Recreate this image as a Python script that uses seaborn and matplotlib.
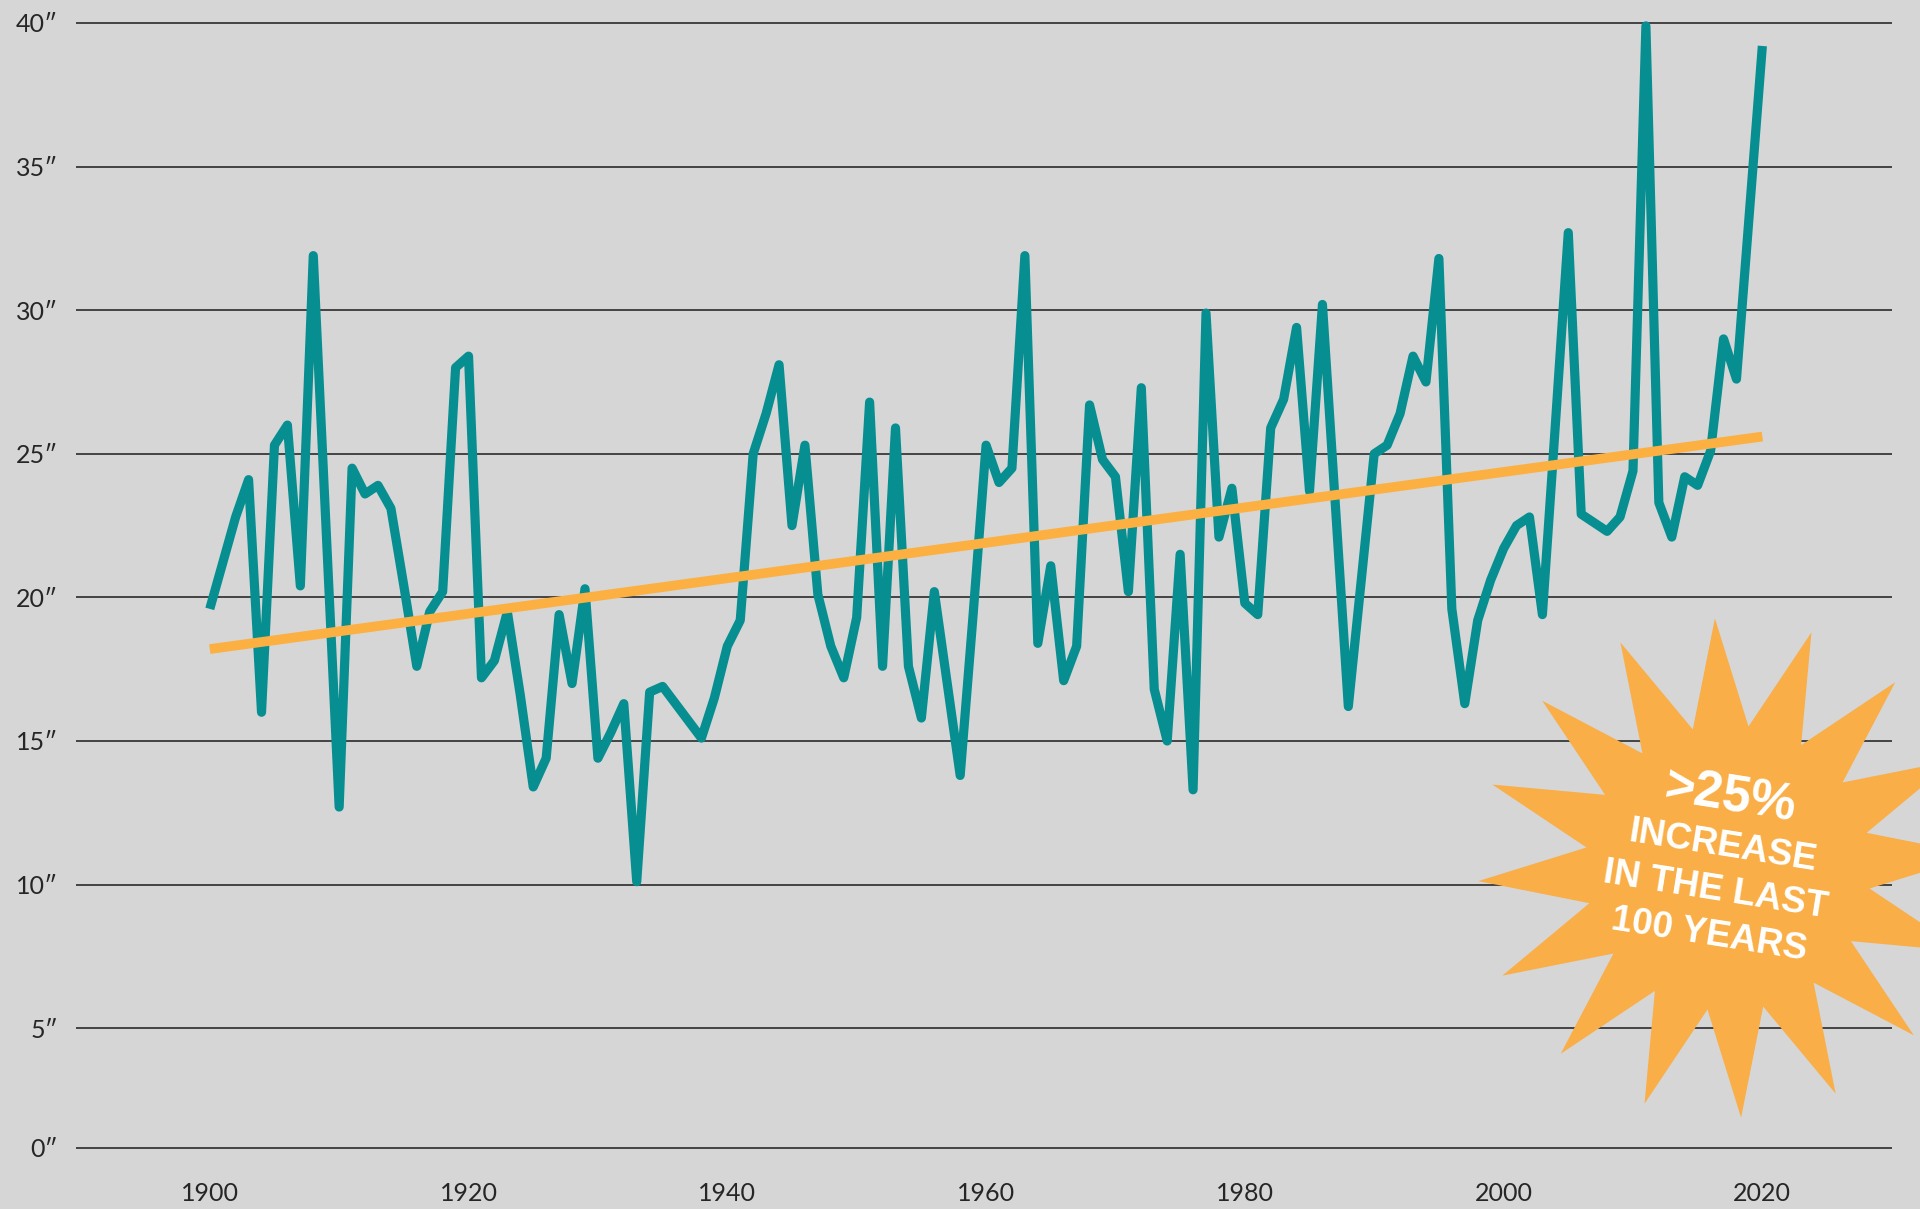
import matplotlib.pyplot as plt
import matplotlib.patches as mpatches
import matplotlib.transforms as mtransforms
import numpy as np
import pandas as pd
import seaborn as sns

# annual totals (inches)
years = list(range(1900, 2021))
inches = [
    19.6, 21.2, 22.8, 24.1, 16.0, 25.3, 26.0, 20.4, 31.9, 22.3,   # 1900s
    12.7, 24.5, 23.6, 23.9, 23.1, 20.4, 17.6, 19.5, 20.2, 28.0,   # 1910s
    28.4, 17.2, 17.8, 19.5, 16.6, 13.4, 14.4, 19.4, 17.0, 20.3,   # 1920s
    14.4, 15.3, 16.3, 10.1, 16.7, 16.9, 16.3, 15.7, 15.1, 16.5,   # 1930s
    18.3, 19.2, 25.0, 26.4, 28.1, 22.5, 25.3, 20.1, 18.3, 17.2,   # 1940s
    19.3, 26.8, 17.6, 25.9, 17.6, 15.8, 20.2, 17.0, 13.8, 19.4,   # 1950s
    25.3, 24.0, 24.5, 31.9, 18.4, 21.1, 17.1, 18.3, 26.7, 24.8,   # 1960s
    24.2, 20.2, 27.3, 16.8, 15.0, 21.5, 13.3, 29.9, 22.1, 23.8,   # 1970s
    19.8, 19.4, 25.9, 26.9, 29.4, 23.7, 30.2, 23.2, 16.2, 20.6,   # 1980s
    25.0, 25.3, 26.4, 28.4, 27.5, 31.8, 19.6, 16.3, 19.2, 20.6,   # 1990s
    21.7, 22.5, 22.8, 19.4, 26.0, 32.7, 22.9, 22.6, 22.3, 22.8,   # 2000s
    24.4, 39.9, 23.3, 22.1, 24.2, 23.9, 25.1, 29.0, 27.6, 33.4,   # 2010s
    39.2,
]

# linear trend as drawn on the chart
trend_years = [1900, 2020]
trend_inches = [18.2, 25.6]

x_ticks = [1900, 1920, 1940, 1960, 1980, 2000, 2020]
y_ticks = [0, 5, 10, 15, 20, 25, 30, 35, 40]
y_labels = ["0\u2033", "5\u2033", "10\u2033", "15\u2033", "20\u2033",
            "25\u2033", "30\u2033", "35\u2033", "40\u2033"]
# the bottom rule of the original sits a little above the true zero
axis_floor = 0.84

badge_lines = [">25%", "INCREASE", "IN THE LAST", "100 YEARS"]

bg = "#d6d6d6"
teal = "#068e91"
orange = "#fdb042"

sns.set_theme(style="white")
plt.rcParams["font.family"] = ["Lato", "DejaVu Sans"]

fig = plt.figure(figsize=(19.2, 12.09), dpi=100, facecolor=bg)
ax = fig.add_axes([0.03958, 0.04979, 0.94583, 0.93238])
ax.set_facecolor(bg)

df = pd.DataFrame({"year": years, "inches": inches})
sns.lineplot(data=df, x="year", y="inches", ax=ax, color=teal, lw=6.6,
             solid_joinstyle="round", solid_capstyle="butt",
             zorder=4, clip_on=False)
sns.lineplot(x=trend_years, y=trend_inches, ax=ax, color=orange, lw=7.0,
             solid_capstyle="butt", zorder=5)

ax.set_xlim(1889.66, 2030.02)
ax.set_ylim(0.80, 40.05)

ax.set_xticks(x_ticks, labels=[str(t) for t in x_ticks])
ax.set_yticks([max(v, axis_floor) for v in y_ticks], labels=y_labels)
ax.yaxis.grid(True, color="#2b2b2b", lw=1.2)
ax.xaxis.grid(False)
ax.set_axisbelow(True)
for s in ax.spines.values():
    s.set_visible(False)
ax.tick_params(axis="both", length=0, labelsize=18, labelcolor="#262626")
ax.tick_params(axis="y", pad=13)
ax.tick_params(axis="x", pad=24)
ax.set_xlabel("")
ax.set_ylabel("")

# starburst badge, placed in output pixels (origin bottom-left)
px = mtransforms.IdentityTransform()
cx, cy = 1728, 1209 - 868
n_pts = 16
ang = np.deg2rad(3 + np.arange(2 * n_pts) * 180.0 / n_pts)
rad = np.where(np.arange(2 * n_pts) % 2 == 0, 250, 143)
star = mpatches.Polygon(np.column_stack([cx + rad * np.cos(ang), cy + rad * np.sin(ang)]),
                        closed=True, facecolor="#f9ae47", edgecolor="none",
                        transform=px, zorder=10)
fig.add_artist(star)

rot = -9
down = np.array([np.sin(np.deg2rad(rot)), -np.cos(np.deg2rad(rot))])
base = np.array([1723, 1209 - 846])
offsets = [-49, 0, 45, 90]
sizes = [37, 26.5, 26.5, 26.5]
for line, off, size in zip(badge_lines, offsets, sizes):
    x, y = base + down * off
    fig.text(x, y, line, transform=px, rotation=rot, rotation_mode="anchor",
             ha="center", va="center", color="white", fontsize=size,
             fontweight="bold", family=["Liberation Sans", "DejaVu Sans"], zorder=11)

fig.savefig("out.png", dpi=100, facecolor=bg)
